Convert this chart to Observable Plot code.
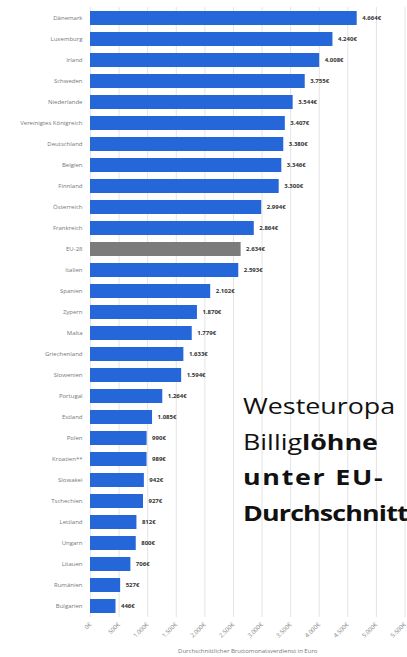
<!DOCTYPE html>
<html>
<head>
<meta charset="utf-8">
<script src="https://cdn.jsdelivr.net/npm/d3@7"></script>
<script src="https://cdn.jsdelivr.net/npm/@observablehq/plot@0.6"></script>
<style>
  html, body { margin: 0; padding: 0; background: #fff; }
  #wrap { position: relative; width: 407px; height: 657px; overflow: hidden; }
  #overlay { position: absolute; left: 243px; top: 388px; transform-origin: 0 0; transform: scaleX(1.22);
    font-family: "Open Sans", sans-serif; font-size: 22px; line-height: 35.5px; color: #111; white-space: nowrap; }
  #overlay b { font-weight: 700; }
  #l3 { letter-spacing: 1.4px; }
  #l4 { letter-spacing: -0.7px; }
</style>
</head>
<body>
<div id="wrap">
  <div id="chart"></div>
  <div id="overlay">
    <div>Westeuropa</div>
    <div>Billig<b>löhne</b></div>
    <div id="l3"><b>unter EU-</b></div>
    <div id="l4"><b>Durchschnitt</b></div>
  </div>
</div>
<script>
const countries = ["Dänemark","Luxemburg","Irland","Schweden","Niederlande","Vereinigtes Königreich","Deutschland","Belgien","Finnland","Österreich","Frankreich","EU-28","Italien","Spanien","Zypern","Malta","Griechenland","Slowenien","Portugal","Estland","Polen","Kroatien**","Slowakei","Tschechien","Lettland","Ungarn","Litauen","Rumänien","Bulgarien"];
const values = [4664,4240,4008,3755,3544,3407,3380,3346,3300,2994,2864,2634,2593,2102,1870,1779,1633,1594,1264,1085,990,989,942,927,812,800,706,527,446];
const xTicks = [0,500,1000,1500,2000,2500,3000,3500,4000,4500,5000,5500];
const highlight = ["EU-28"];
const axisTitle = "Durchschnittlicher Bruttomonatsverdienst in Euro";

const loc = d3.formatLocale({decimal: ",", thousands: ".", grouping: [3], currency: ["", "€"]});
const fmt = v => loc.format(",")(v) + "€";

const data = countries.map((c, i) => ({country: c, value: values[i]}));

const chart = Plot.plot({
  width: 407,
  height: 657,
  marginLeft: 90,
  marginRight: 2.5,
  marginTop: 7,
  marginBottom: 40,
  style: {fontFamily: "'Open Sans', sans-serif", background: "#fff"},
  x: {domain: [0, 5500]},
  y: {domain: countries, paddingInner: 0.33, paddingOuter: 0.17},
  marks: [
    Plot.gridX(xTicks, {stroke: "#e4e4e4", strokeOpacity: 1}),
    Plot.barX(data, {x: "value", y: "country", fill: d => highlight.includes(d.country) ? "#7b7b7b" : "#2566d9"}),
    Plot.text(data, {x: "value", y: "country", text: d => fmt(d.value), textAnchor: "start", dx: 5, fontSize: 6, fontWeight: "bold", fill: "#333"}),
    Plot.ruleX([0], {stroke: "#9a9a9a", y1: null}),
    Plot.axisY({tickSize: 0, tickPadding: 8, fontSize: 6, color: "#777", label: null}),
    Plot.axisX({ticks: xTicks, tickFormat: fmt, tickSize: 0, tickRotate: -45, tickPadding: 6, fontSize: 6, color: "#888", label: null}),
    Plot.text([axisTitle], {frameAnchor: "bottom", dy: 35, fontSize: 6, fill: "#777"})
  ]
});
document.getElementById("chart").appendChild(chart);
</script>
</body>
</html>
